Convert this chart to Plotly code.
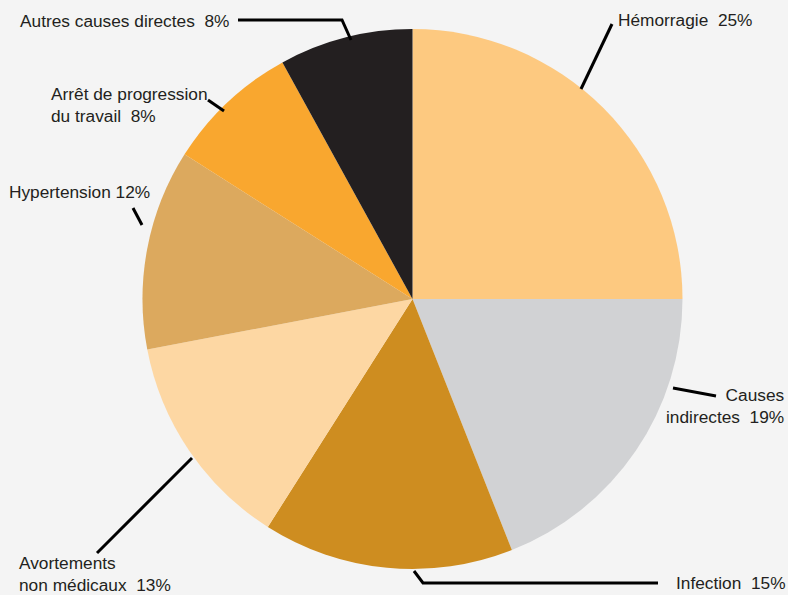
import plotly.graph_objects as go

# ---- data ----
labels = ["Hémorragie", "Causes indirectes", "Infection", "Avortements non médicaux",
          "Hypertension", "Arrêt de progression du travail", "Autres causes directes"]
values = [25, 19, 15, 13, 12, 8, 8]
label_texts = ["Hémorragie  25%", "Causes<br>indirectes  19%", "Infection  15%",
               "Avortements<br>non médicaux  13%", "Hypertension 12%",
               "Arrêt de progression<br>du travail  8%", "Autres causes directes  8%"]
colors = ["#FDC980", "#D1D2D4", "#CE8D20", "#FDD7A3", "#DCA95E", "#F9A72F", "#231F20"]

W, H = 788, 595
BG = "#F4F4F4"

# ---- label layout (pixel positions) ----
label_pos = [
    dict(x=616, y=20, xanchor="left"),
    dict(x=787, y=406, xanchor="right", align="right"),
    dict(x=674, y=583, xanchor="left"),
    dict(x=17, y=574, xanchor="left", align="left"),
    dict(x=7, y=192, xanchor="left"),
    dict(x=49, y=105, xanchor="left", align="left"),
    dict(x=18, y=21, xanchor="left"),
]
leaders = [
    [(581, 89), (612, 24)],
    [(673, 388), (716, 396)],
    [(414, 571), (423, 583), (658, 583)],
    [(192, 458), (97, 553)],
    [(133, 208), (142, 225)],
    [(208, 100), (224, 111)],
    [(238, 20), (342, 20), (351, 40)],
]

fig = go.Figure()
cx, cy, r = 412.5, 299, 270
fig.add_trace(go.Pie(
    labels=labels, values=values, sort=False, direction="clockwise", rotation=0,
    marker=dict(colors=colors, line=dict(width=0)),
    textinfo="none", hoverinfo="label+percent", showlegend=False,
    domain=dict(x=[(cx - r) / W, (cx + r) / W], y=[(H - cy - r) / H, (H - cy + r) / H]),
))

for txt, p in zip(label_texts, label_pos):
    fig.add_annotation(text=txt, xref="x", yref="y", showarrow=False,
                       yanchor="middle",
                       font=dict(family="Liberation Sans, Arial, sans-serif", size=17.3, color="#231F20"),
                       **p)

for pts in leaders:
    path = "M " + " L ".join(f"{x},{y}" for x, y in pts)
    fig.add_shape(type="path", path=path, xref="x", yref="y",
                  line=dict(color="#000000", width=3))

fig.update_layout(
    width=W, height=H, margin=dict(l=0, r=0, t=0, b=0),
    paper_bgcolor=BG, plot_bgcolor=BG,
    xaxis=dict(range=[0, W], visible=False, fixedrange=True),
    yaxis=dict(range=[H, 0], visible=False, fixedrange=True),
)
fig.write_html("out.html", config={"displayModeBar": False},
               post_script="document.body.style.margin='0';document.body.style.background='#F4F4F4';")
